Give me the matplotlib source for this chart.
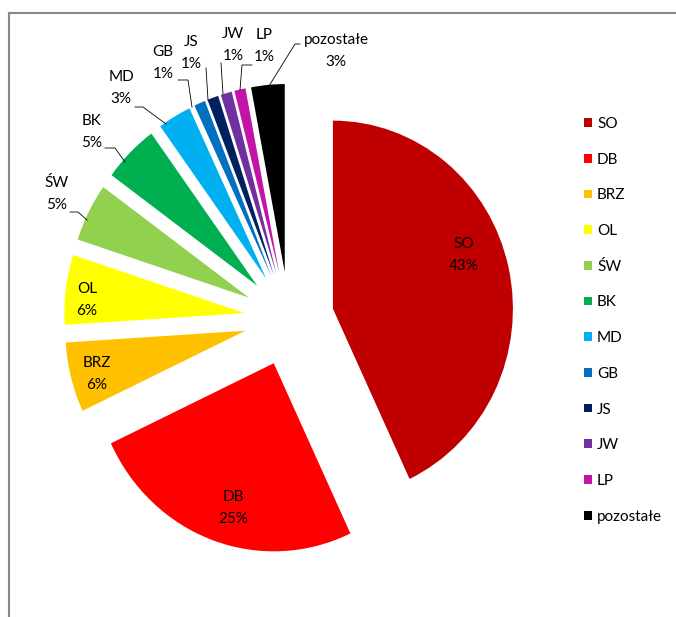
import matplotlib
matplotlib.use("Agg")
import matplotlib.pyplot as plt

# shares (%) clockwise from 12 o'clock
names = ["SO", "DB", "BRZ", "OL", "ŚW", "BK", "MD", "GB", "JS", "JW", "LP", "pozostałe"]
shares = [43, 25, 6, 6, 5, 5, 3, 1, 1, 1, 1, 3]
colors = ["#C00000", "#FF0000", "#FFC000", "#FFFF00", "#92D050", "#00B050",
          "#00B0F0", "#0070C0", "#002060", "#7030A0", "#C414A8", "#000000"]

W, H = 676, 617
K = 1.045          # the reference pie is a bit taller than wide
plt.rcParams["font.family"] = ["Lato", "DejaVu Sans"]
FS = 11
LS = 1.75

fig = plt.figure(figsize=(W / 100, H / 100), dpi=100)
ax = fig.add_axes([0, 0, 1, 1])


def py(y):
    """reference pixel row (from top) -> data y"""
    return (H - y) / K


cx, cy, R, gap = 289, 319, 180, 45
wedges, _ = ax.pie(shares, colors=colors, startangle=90, counterclock=False,
                   center=(cx, py(cy)), radius=R, explode=[gap] * len(shares),
                   wedgeprops=dict(linewidth=0))
ax.set_aspect("auto")
ax.set_xlim(0, W)
ax.set_ylim(0, H / K)
ax.axis("off")

# labels inside the big slices
inside = {"SO": (464, 255), "DB": (233, 508), "BRZ": (97, 374), "OL": (87, 300)}
# labels outside with leader lines (text centre, line points)
outside = {
    "ŚW": ((57, 194), [(70, 212), (78, 212), (87, 220)]),
    "BK": ((92, 132), [(105, 148), (115, 148), (125, 162)]),
    "MD": ((121, 88), [(135, 107), (143, 107), (166, 124)]),
    "GB": ((163, 63), [(178, 80), (188, 80), (192, 107)]),
    "JS": ((191, 53), [(206, 68), (208, 100)]),
    "JW": ((233, 45), [(221, 63), (223, 94)]),
    "LP": ((264, 46), [(252, 65), (242, 65), (240, 90)]),
    "pozostałe": ((336, 51), [(300, 44), (295, 44), (269, 86)]),
}

for name, val in zip(names, shares):
    txt = f"{name}\n{val}%"
    if name in inside:
        x, y = inside[name]
    else:
        (x, y), pts = outside[name]
        ax.plot([p[0] for p in pts], [py(p[1]) for p in pts], color="#000000", lw=0.6)
    ax.text(x, py(y), txt, ha="center", va="center", fontsize=FS,
            linespacing=LS, color="#000000")

leg = ax.legend(wedges, names, loc="upper left",
                bbox_to_anchor=(584 / W, (H - 117) / H), bbox_transform=fig.transFigure,
                frameon=False, fontsize=FS, handlelength=0.5, handleheight=0.5,
                handletextpad=0.35, labelspacing=1.42, borderpad=0, borderaxespad=0)

# chart-area frame (only left/top edges visible in the crop)
ax.plot([9, 9], [py(12.5), py(H + 5)], color="#888888", lw=1.5, clip_on=False)
ax.plot([9, W + 5], [py(12.5), py(12.5)], color="#888888", lw=1.5, clip_on=False)

fig.savefig("out.png", dpi=100, facecolor="white")
